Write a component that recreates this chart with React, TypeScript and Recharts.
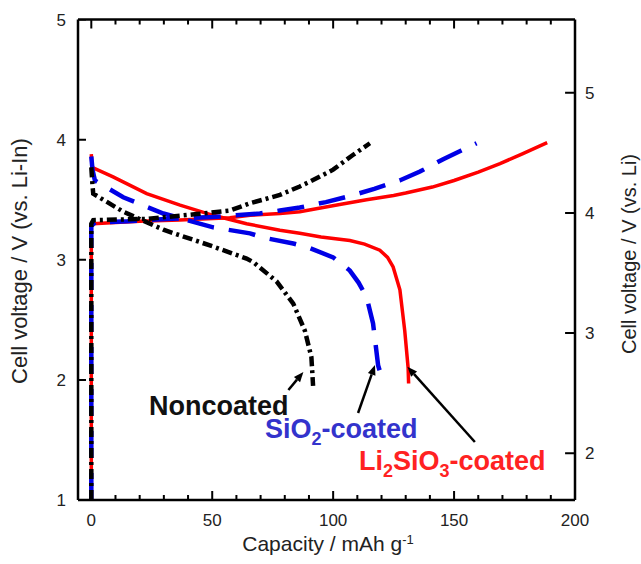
import React from "react";
import { LineChart, Line, XAxis, YAxis, ReferenceLine, ReferenceDot } from "recharts";

// capacity (mAh g-1) / voltage (V vs. Li-In)
const liChargeCap = [0, 0, 0.8, 10, 20, 36.6, 57.3, 65.6, 78, 86.2, 102.7, 113.8, 125, 130, 141, 150, 160, 169, 178, 188.5];
const liChargeV = [1.0, 3.28, 3.3, 3.31, 3.32, 3.33, 3.35, 3.37, 3.385, 3.4, 3.46, 3.5, 3.535, 3.555, 3.605, 3.66, 3.73, 3.8, 3.88, 3.975];
const liDischargeCap = [0, 0.3, 9, 22.9, 36.7, 50.4, 64.2, 78, 86.2, 95, 106.9, 113, 119.3, 122.5, 124.8, 127.6, 129.6, 131, 131.2];
const liDischargeV = [3.88, 3.77, 3.69, 3.55, 3.455, 3.37, 3.3, 3.245, 3.22, 3.19, 3.16, 3.13, 3.08, 3.02, 2.94, 2.75, 2.41, 2.1, 1.97];

const siChargeCap = [0, 0, 1.5, 15, 31, 50, 69.7, 78, 86.2, 97, 106.9, 117, 127.5, 135.9, 145.5, 153, 159.3];
const siChargeV = [1.0, 3.28, 3.31, 3.32, 3.34, 3.355, 3.385, 3.41, 3.435, 3.48, 3.53, 3.59, 3.66, 3.734, 3.837, 3.91, 3.97];
const siDischargeCap = [0, 0.5, 1.5, 13.2, 29.8, 50.4, 65.6, 71, 83.5, 90, 100, 106.9, 110.5, 113.8, 116.5, 118.6, 119.2];
const siDischargeV = [3.86, 3.75, 3.66, 3.52, 3.385, 3.27, 3.22, 3.185, 3.135, 3.1, 3.02, 2.91, 2.81, 2.69, 2.47, 2.12, 2.08];

const ncChargeCap = [0, 0, 0.8, 22.9, 43.5, 57.3, 65.6, 71, 78, 86.2, 90.4, 100, 108, 115.2];
const ncChargeV = [1.0, 3.3, 3.33, 3.34, 3.38, 3.41, 3.47, 3.5, 3.54, 3.61, 3.65, 3.75, 3.87, 3.97];
const ncDischargeCap = [0, 0.5, 0.8, 13.2, 29.8, 50.4, 64.2, 67, 76.6, 83.5, 88.3, 91, 91.7];
const ncDischargeV = [3.77, 3.62, 3.55, 3.4, 3.25, 3.11, 3.01, 2.98, 2.82, 2.635, 2.41, 2.19, 1.95];

const xTicks = [0, 50, 100, 150, 200];
const xMinorTicks = [10, 20, 30, 40, 60, 70, 80, 90, 110, 120, 130, 140, 160, 170, 180, 190];
const yLeftTicks = [1, 2, 3, 4, 5];
const yRightTicks = [2, 3, 4, 5];

const X_DOMAIN: [number, number] = [-5.5, 200];
const Y_DOMAIN: [number, number] = [1, 5];
const LI_IN_OFFSET = 0.61; // Li-In vs. Li
const Y_RIGHT_DOMAIN: [number, number] = [Y_DOMAIN[0] + LI_IN_OFFSET, Y_DOMAIN[1] + LI_IN_OFFSET];

// inward tick lengths, in axis units (about 9/5 px vertically, 8/10 px horizontally)
const V_MAJOR = 0.075;
const V_MINOR = 0.042;
const CAP_LEFT = 3.3;
const CAP_RIGHT = 4.1;

const FONT = "'Liberation Sans', Arial, Helvetica, sans-serif";
const RED = "#ff0000";
const BLUE = "#0000e6";

type Pt = { cap: number; v: number | null };
const toPoints = (cap: number[], v: number[]): Pt[] => cap.map((c, i) => ({ cap: c, v: v[i] }));

// tick stubs as short broken polylines (null breaks the line between stubs)
const vStubs = (ticks: number[], len: number): Pt[] =>
  ticks.flatMap((t) => [
    { cap: t, v: Y_DOMAIN[0] }, { cap: t, v: Y_DOMAIN[0] + len }, { cap: t, v: null },
    { cap: t, v: Y_DOMAIN[1] - len }, { cap: t, v: Y_DOMAIN[1] }, { cap: t, v: null },
  ]);
const hStubs = (ticks: number[], from: number, to: number): Pt[] =>
  ticks.flatMap((t) => [{ cap: from, v: t }, { cap: to, v: t }, { cap: to, v: null }]);

function Arrow(props: any) {
  const { x1, y1, x2, y2 } = props;
  const a = Math.atan2(y2 - y1, x2 - x1);
  const len = 10;
  const half = 4;
  const bx = x2 - len * Math.cos(a);
  const by = y2 - len * Math.sin(a);
  const pts = `${x2},${y2} ${bx - half * Math.sin(a)},${by + half * Math.cos(a)} ${bx + half * Math.sin(a)},${by - half * Math.cos(a)}`;
  return (
    <g>
      <line x1={x1} y1={y1} x2={bx} y2={by} stroke="#000" strokeWidth={2.5} />
      <polygon points={pts} fill="#000" />
    </g>
  );
}

const tickStyle = { fontSize: 17, fill: "#222", fontFamily: FONT };
const frame = { stroke: "#000", strokeWidth: 2.5 };

export default function App() {
  const series = [
    { name: "li-c", data: toPoints(liChargeCap, liChargeV), color: RED, w: 3.5, dash: undefined },
    { name: "li-d", data: toPoints(liDischargeCap, liDischargeV), color: RED, w: 3.5, dash: undefined },
    { name: "si-c", data: toPoints(siChargeCap, siChargeV), color: BLUE, w: 4.5, dash: "27 15" },
    { name: "si-d", data: toPoints(siDischargeCap, siDischargeV), color: BLUE, w: 4.5, dash: "27 15" },
    { name: "nc-c", data: toPoints(ncChargeCap, ncChargeV), color: "#000", w: 4.5, dash: "10 4 3 4" },
    { name: "nc-d", data: toPoints(ncDischargeCap, ncDischargeV), color: "#000", w: 4.5, dash: "10 4 3 4" },
  ];

  const tickMarks = [
    { name: "t-xM", yId: "y", data: vStubs(xTicks, V_MAJOR) },
    { name: "t-xm", yId: "y", data: vStubs(xMinorTicks, V_MINOR) },
    { name: "t-yl", yId: "y", data: hStubs(yLeftTicks, X_DOMAIN[0], X_DOMAIN[0] + CAP_LEFT) },
    { name: "t-yr", yId: "yr", data: hStubs(yRightTicks, X_DOMAIN[1] - CAP_RIGHT, X_DOMAIN[1]) },
  ];

  const txt = (content: React.ReactNode, color: string) => (p: any) => (
    <text x={p.cx} y={p.cy} fill={color} fontSize={27} fontWeight="bold" fontFamily={FONT}>
      {content}
    </text>
  );

  return (
    <div style={{ position: "absolute", left: 0, top: 0, width: 641, height: 564, background: "#fff", fontFamily: FONT }}>
      <LineChart width={641} height={564} margin={{ top: 18.5, right: 65, bottom: 63, left: 77 }}>
        <XAxis xAxisId="x" type="number" dataKey="cap" domain={X_DOMAIN} allowDataOverflow ticks={xTicks} interval={0}
          height={1} tickSize={0} tickMargin={14} tickLine={false} axisLine={frame} tick={tickStyle} />
        <XAxis xAxisId="xt" orientation="top" type="number" domain={X_DOMAIN} allowDataOverflow ticks={xTicks} interval={0}
          height={1} tick={false} tickLine={false} axisLine={frame} />
        <YAxis yAxisId="y" type="number" domain={Y_DOMAIN} allowDataOverflow ticks={yLeftTicks} interval={0}
          width={1} tickSize={0} tickMargin={12} tickLine={false} axisLine={frame} tick={tickStyle} />
        <YAxis yAxisId="yr" orientation="right" type="number" domain={Y_RIGHT_DOMAIN} allowDataOverflow ticks={yRightTicks} interval={0}
          width={1} tickSize={0} tickMargin={10} tickLine={false} axisLine={frame} tick={{ ...tickStyle, textAnchor: "start" }} />

        {tickMarks.map((m) => (
          <Line key={m.name} xAxisId="x" yAxisId={m.yId} data={m.data} dataKey="v" type="linear" dot={false}
            stroke="#000" strokeWidth={2} isAnimationActive={false} />
        ))}

        {series.map((s) => (
          <Line key={s.name} xAxisId="x" yAxisId="y" data={s.data} dataKey="v" type="linear" dot={false}
            stroke={s.color} strokeWidth={s.w} strokeDasharray={s.dash} isAnimationActive={false} />
        ))}

        <ReferenceLine xAxisId="x" yAxisId="y" segment={[{ x: 81.5, y: 1.916 }, { x: 87.7, y: 2.066 }]} shape={Arrow} />
        <ReferenceLine xAxisId="x" yAxisId="y" segment={[{ x: 110.3, y: 1.724 }, { x: 117.3, y: 2.124 }]} shape={Arrow} />
        <ReferenceLine xAxisId="x" yAxisId="y" segment={[{ x: 158.6, y: 1.483 }, { x: 130.7, y: 2.11 }]} shape={Arrow} />

        <ReferenceDot xAxisId="x" yAxisId="y" x={23.9} y={1.708} r={0} shape={txt("Noncoated", "#111")} />
        <ReferenceDot xAxisId="x" yAxisId="y" x={71.8} y={1.516} r={0}
          shape={txt(<>SiO<tspan fontSize={18} dy={7}>2</tspan><tspan dy={-7}>-coated</tspan></>, "#3333cc")} />
        <ReferenceDot xAxisId="x" yAxisId="y" x={110.7} y={1.25} r={0}
          shape={txt(<>Li<tspan fontSize={18} dy={7}>2</tspan><tspan dy={-7}>SiO</tspan><tspan fontSize={18} dy={7}>3</tspan><tspan dy={-7}>-coated</tspan></>, "#ff2222")} />
      </LineChart>

      <div style={{ position: "absolute", left: 20, top: 261, transform: "translate(-50%,-50%) rotate(-90deg)", whiteSpace: "nowrap", fontSize: 22, lineHeight: 1, color: "#222" }}>
        Cell voltage / V (vs. Li-In)
      </div>
      <div style={{ position: "absolute", left: 629, top: 254, transform: "translate(-50%,-50%) rotate(-90deg)", whiteSpace: "nowrap", fontSize: 20, lineHeight: 1, color: "#222" }}>
        Cell voltage / V (vs. Li)
      </div>
      <div style={{ position: "absolute", left: 328, top: 543, transform: "translate(-50%,-50%)", whiteSpace: "nowrap", fontSize: 21, lineHeight: 1, color: "#222" }}>
        Capacity / mAh g<sup style={{ fontSize: 13, verticalAlign: "top", lineHeight: 1 }}>-1</sup>
      </div>
    </div>
  );
}
